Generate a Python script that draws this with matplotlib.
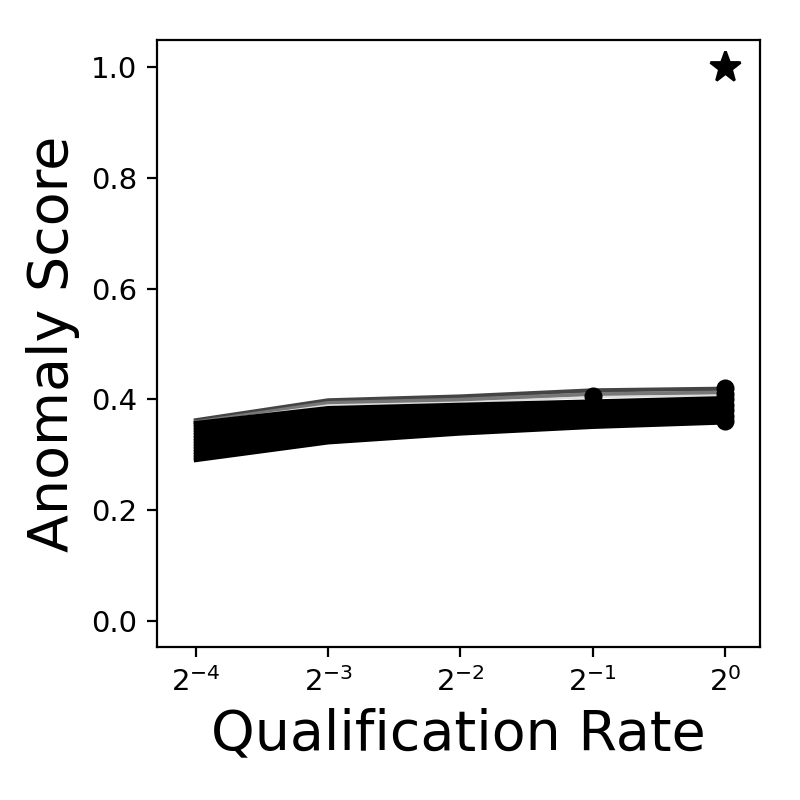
import matplotlib
matplotlib.use("Agg")
import matplotlib.pyplot as plt

# qualification rates (log2 scale)
rates = [2**-4, 2**-3, 2**-2, 2**-1, 2**0]

# anomaly score curves (one per sample)
black_curves = [
    [0.290, 0.322, 0.338, 0.350, 0.358],
    [0.295, 0.326, 0.341, 0.352, 0.360],
    [0.300, 0.330, 0.344, 0.355, 0.362],
    [0.305, 0.334, 0.347, 0.358, 0.365],
    [0.310, 0.338, 0.350, 0.361, 0.368],
    [0.315, 0.342, 0.353, 0.364, 0.371],
    [0.320, 0.346, 0.356, 0.367, 0.374],
    [0.325, 0.350, 0.359, 0.370, 0.377],
    [0.330, 0.354, 0.362, 0.373, 0.380],
    [0.335, 0.358, 0.366, 0.377, 0.384],
    [0.340, 0.363, 0.370, 0.381, 0.387],
    [0.345, 0.368, 0.375, 0.385, 0.391],
    [0.350, 0.374, 0.380, 0.389, 0.395],
    [0.354, 0.380, 0.386, 0.393, 0.399],
    [0.357, 0.384, 0.390, 0.396, 0.402],
]
gray_curves = [
    [0.362, 0.398, 0.405, 0.416, 0.419],
    [0.358, 0.393, 0.399, 0.409, 0.412],
    [0.356, 0.389, 0.394, 0.404, 0.407],
]
gray_colors = ["#444444", "#777777", "#dddddd"]

# points marked on curves
mark_x = [2**-1, 1, 1, 1, 1, 1, 1, 1]
mark_y = [0.406, 0.420, 0.410, 0.400, 0.390, 0.380, 0.370, 0.360]

# the anomalous sample
star_x = [1]
star_y = [1.0]

fig, ax = plt.subplots(figsize=(4, 4), dpi=200)

for c, col in zip(gray_curves, gray_colors):
    ax.plot(rates, c, color=col, lw=1.5 if col != "#dddddd" else 0.8)
for c in black_curves:
    ax.plot(rates, c, color="black", lw=1.5)

ax.plot(mark_x, mark_y, "o", color="black", ms=5.5)
ax.plot(star_x, star_y, "*", color="black", ms=11.5)

ax.set_xscale("log", base=2)
ax.set_xticks(rates)
ax.set_xlim(2**-4.295, 2**0.265)
ax.set_ylim(-0.048, 1.049)
ax.set_yticks([0.0, 0.2, 0.4, 0.6, 0.8, 1.0])
ax.tick_params(labelsize=10.5)

ax.set_xlabel("Qualification Rate", fontsize=20)
ax.set_ylabel("Anomaly Score", fontsize=20)

fig.subplots_adjust(left=0.196, right=0.95, bottom=0.191, top=0.95)
fig.savefig("out.png")
